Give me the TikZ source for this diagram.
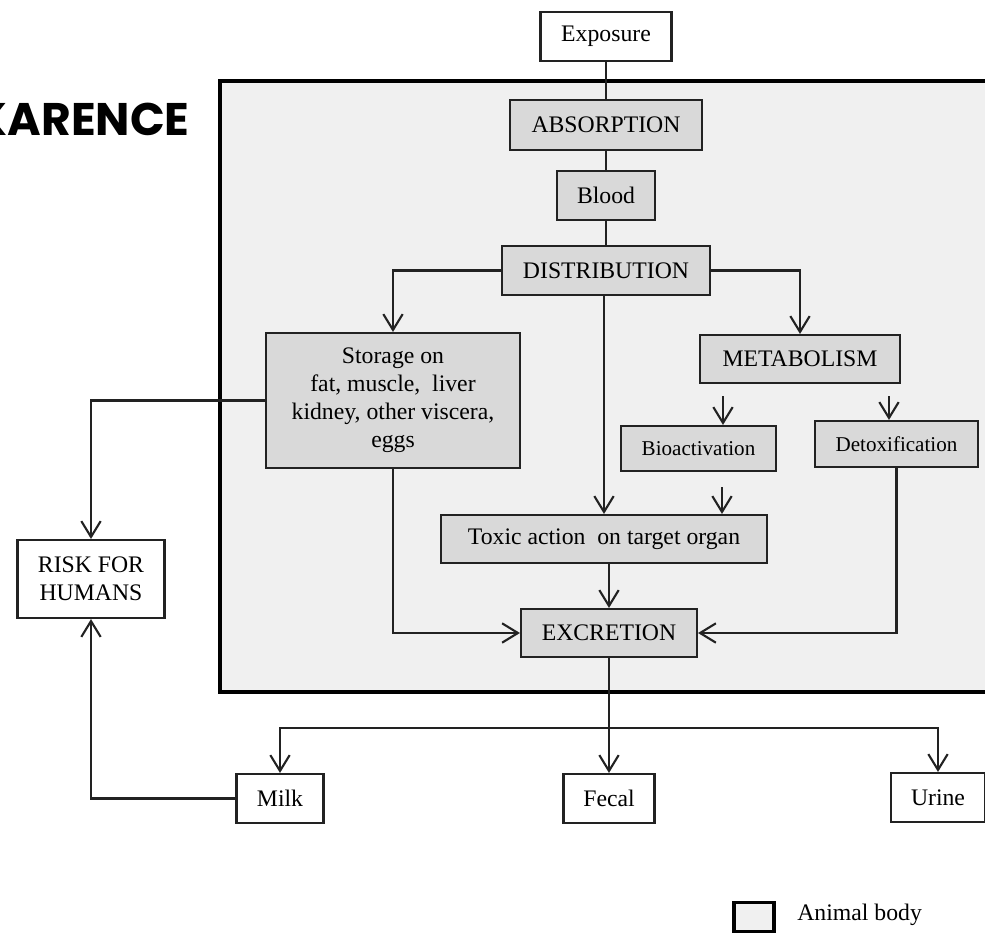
\documentclass[tikz,border=0pt]{standalone}
\usepackage{fontspec}
\setmainfont{Liberation Serif}
\newfontfamily\titlefont{Poppins}
\usepackage{xcolor}
\usepackage{tikz}
\usetikzlibrary{arrows.meta,positioning}

\definecolor{boxgray}{HTML}{D9D9D9}
\definecolor{bodygray}{HTML}{F0F0F0}
\definecolor{ink}{HTML}{222222}

\begin{document}
\begin{tikzpicture}[x=0.02cm, y=-0.02cm,
    organ/.style={draw=ink, fill=boxgray, line width=1.2pt, inner sep=1pt,
                  font=\fontsize{13.5}{16}\selectfont, align=center},
    small/.style={organ, font=\fontsize{12}{14}\selectfont},
    outbox/.style={organ, fill=white},
    arr/.style={draw=ink, line width=1.2pt, -{Straight Barb[length=9pt, width=11pt, line width=1.2pt]}},
    wire/.style={draw=ink, line width=1.2pt},
]
\useasboundingbox (0,0) rectangle (985,933);
\clip (0,0) rectangle (985,933);

% Animal body
\draw[draw=black, line width=2.6pt, fill=bodygray] (220,81) rectangle (1010,692);

% Heading (cut at the left)
\node[anchor=east, inner sep=0, font=\titlefont\bfseries\fontsize{26}{30}\selectfont] (head) at (190,119) {KARENCE};

% === Main chain ===
\node[outbox, minimum width=2.62cm, minimum height=0.98cm] (expo) at (606,36.5) {Exposure};
\node[organ, minimum width=3.84cm, minimum height=1.0cm] (absorb) at (606,125) {ABSORPTION};
\node[organ, minimum width=1.96cm, minimum height=0.98cm] (blood) at (606,195.5) {Blood};
\node[organ, minimum width=4.16cm, minimum height=0.98cm] (distrib) at (606,270.5) {DISTRIBUTION};

\draw[wire] (expo.south) -- (absorb.north);
\draw[wire] (absorb.south) -- (blood.north);
\draw[wire] (blood.south) -- (distrib.north);

% === Storage and metabolism ===
\node[organ, minimum width=5.08cm, minimum height=2.7cm] (store) at (393,400.5)
    {Storage on\\ fat, muscle,\ \ liver\\ kidney, other viscera,\\ eggs};
\node[organ, minimum width=4.0cm, minimum height=0.96cm] (metab) at (800,359) {METABOLISM};
\node[small, minimum width=3.1cm, minimum height=0.9cm] (bioact) at (698.5,448.5) {Bioactivation};
\node[small, minimum width=3.26cm, minimum height=0.92cm] (detox) at (896.5,444) {Detoxification};

\draw[arr] (distrib.west) -| (store.north);
\draw[arr] (distrib.east) -| (metab.north);

\coordinate (m1) at (723,396);
\coordinate (m2) at (889,396);
\coordinate (b1) at (722,487);
\draw[arr] (m1) -- (m1 |- bioact.north);
\draw[arr] (m2) -- (m2 |- detox.north);

% === Toxic action and excretion ===
\node[organ, minimum width=6.52cm, minimum height=0.96cm] (toxic) at (604,539) {Toxic action\ \ on target organ};
\node[organ, minimum width=3.52cm, minimum height=0.96cm] (excr) at (609,633) {EXCRETION};

\draw[arr] (distrib.south -| toxic.north) -- (toxic.north);
\draw[arr] (b1) -- (b1 |- toxic.north);
\draw[arr] (toxic.south -| excr.north) -- (excr.north);
\draw[arr] (store.south) |- (excr.west);
\draw[arr] (detox.south) |- (excr.east);

% === Outside the body ===
\node[outbox, minimum width=2.94cm, minimum height=1.56cm] (risk) at (91,579) {RISK FOR\\ HUMANS};
\node[outbox, minimum width=1.74cm, minimum height=0.98cm] (milk) at (280,798.5) {Milk};
\node[outbox, minimum width=1.82cm, minimum height=0.98cm] (fecal) at (609,798.5) {Fecal};
\node[outbox, minimum width=1.88cm, minimum height=0.98cm] (urine) at (938,797.5) {Urine};

\coordinate (split) at (609,728);
\draw[arr] (excr.south) -- (fecal.north);
\draw[arr] (split) -| (milk.north);
\draw[arr] (split) -| (urine.north);
\draw[arr] (store.west) -| (risk.north);
\draw[arr] (milk.west) -| (risk.south);

% Legend
\node[draw=black, line width=2pt, fill=bodygray, minimum width=0.8cm, minimum height=0.58cm] (legbox) at (754,917) {};
\node[anchor=west, inner sep=0, font=\fontsize{13.5}{16}\selectfont] (legtext) at (797,915) {Animal body};

\end{tikzpicture}
\end{document}
